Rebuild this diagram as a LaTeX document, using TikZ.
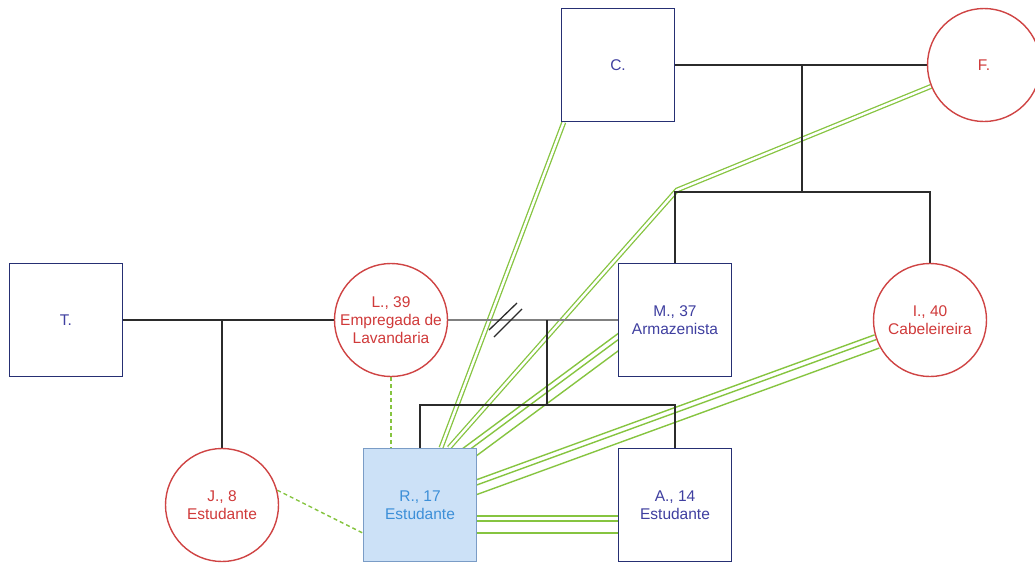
\documentclass[tikz,border=0pt]{standalone}
\usepackage{fontspec}
\setmainfont{Liberation Sans}
\usetikzlibrary{calc,backgrounds}

\definecolor{maleline}{HTML}{262F73}
\definecolor{maletext}{HTML}{3F3FA0}
\definecolor{femline}{HTML}{CF4444}
\definecolor{femtext}{HTML}{D03A3A}
\definecolor{idxline}{HTML}{7A9CC6}
\definecolor{idxfill}{HTML}{CCE1F7}
\definecolor{idxtext}{HTML}{3C8FD8}
\definecolor{kinline}{HTML}{2B2B2B}
\definecolor{relgreen}{HTML}{86C440}

\begin{document}
\begin{tikzpicture}[
      x=1pt, y=-1pt,
      every node/.style={font=\fontsize{15.5}{18}\selectfont, align=center},
      male/.style={
          rectangle,
          draw=maleline,
          fill=white,
          text=maletext,
          line width=1.4pt,
          minimum size=113pt,
          inner sep=0pt
        },
      female/.style={male, circle, draw=femline, text=femtext},
      index/.style={male, draw=idxline, fill=idxfill, text=idxtext},
      kin/.style={draw=kinline, line width=1.3pt},
      close/.style={draw=relgreen, double=white, double distance=2.4pt, line width=1.3pt},
      tie/.style={draw=relgreen, line width=1.4pt},
      distant/.style={draw=relgreen, line width=1.4pt, dash pattern=on 4pt off 3pt}
    ]
    \useasboundingbox (0,0) rectangle (1035,563);

    \node[male] (T) at (66,320) {T.};
    \node[female] (L) at (391,320) {L., 39\\Empregada de\\Lavandaria};
    \node[male] (M) at (675,320) {M., 37\\Armazenista};
    \node[female] (I) at (930,320) {I., 40\\Cabeleireira};
    \node[male] (C) at (618,65) {C.};
    \node[female] (F) at (984,65) {F.};
    \node[female] (J) at (222,505) {J., 8\\Estudante};
    \node[index] (R) at (420,505) {R., 17\\Estudante};
    \node[male] (A) at (675,505) {A., 14\\Estudante};

    \begin{scope}[on background layer]
      \coordinate (mA) at ([xshift=4pt,yshift=-17pt]M.west);
      \coordinate (mB) at ([xshift=44pt,yshift=-6pt]R.north);
      \coordinate (iA) at (I.200);
      \coordinate (iB) at ([xshift=-6pt,yshift=18pt]R.east);
      \coordinate (aA) at ([xshift=4pt,yshift=-16pt]A.west);
      \coordinate (aB) at ([xshift=-4pt,yshift=-16pt]R.east);
      \coordinate (bend) at (677,190);

      \draw[close] ([xshift=3pt]C.south west) -- ([xshift=21pt]R.north);
      \draw[close] (F.202) -- (bend) -- ([xshift=29pt]R.north);
      \foreach \o in {-5,0,9}
        \draw[tie] ($(mA)!\o pt!90:(mB)$) -- ($(mB)!\o pt!-90:(mA)$);
      \foreach \o in {-5,0,9}
        \draw[tie] ($(iA)!\o pt!90:(iB)$) -- ($(iB)!\o pt!-90:(iA)$);
      \foreach \o in {-5,0,12}
        \draw[tie] ($(aA)!\o pt!90:(aB)$) -- ($(aB)!\o pt!-90:(aA)$);
      \draw[distant] (L.south) -- (L.south |- R.north);
      \draw[distant] (J.15) -- ([yshift=-28pt]R.west);

      \coordinate (tl) at (222,320);
      \coordinate (lm) at (547,320);
      \coordinate (sibs) at (547,405);
      \coordinate (cf) at (802,65);
      \coordinate (sibs2) at (802,192);
      \coordinate (split) at (505,320);

      \draw[kin] (T) -- (L);
      \draw[kin] (tl) -- (J);
      \draw[kin, draw=gray, line width=1.7pt] (L) -- (M);
      \draw[kin] ([shift={(-16,10)}]split) -- ([shift={(12,-17)}]split);
      \draw[kin] ([shift={(-11,17)}]split) -- ([shift={(17,-11)}]split);
      \draw[kin] (lm) -- (sibs);
      \draw[kin] (R.north) |- (sibs) -| (A.north);
      \draw[kin] (C) -- (F);
      \draw[kin] (cf) -- (sibs2);
      \draw[kin] (M.north) |- (sibs2) -| (I.north);
    \end{scope}
  \end{tikzpicture}
\end{document}
